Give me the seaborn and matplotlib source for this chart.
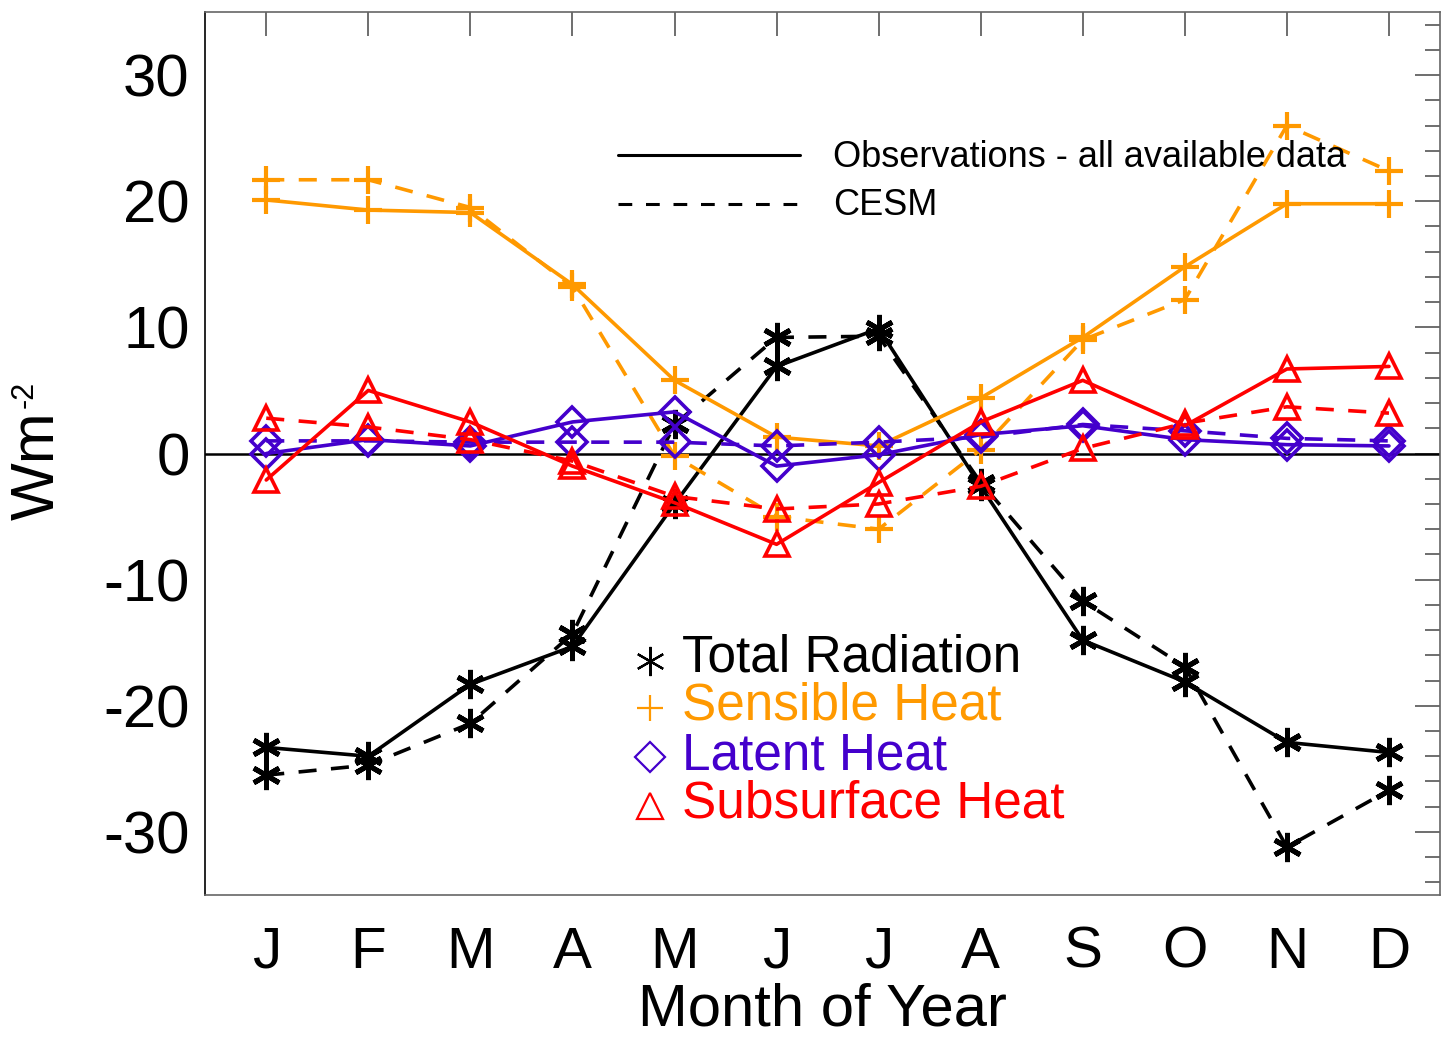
import matplotlib
matplotlib.use("Agg")
import matplotlib.pyplot as plt
from matplotlib.lines import Line2D
import seaborn as sns
import numpy as np
import pandas as pd

months = list(range(1, 13))
month_labels = ["J", "F", "M", "A", "M", "J", "J", "A", "S", "O", "N", "D"]

total_obs = [-23.3, -24.0, -18.3, -15.3, -4.0, 6.9, 9.9, -2.6, -14.8, -18.1, -22.9, -23.7]
total_cesm = [-25.5, -24.7, -21.4, -14.3, 2.3, 9.2, 9.3, -2.3, -11.7, -16.9, -31.2, -26.7]
sens_obs = [20.1, 19.3, 19.1, 13.4, 5.8, 1.3, 0.6, 4.4, 9.2, 14.8, 19.8, 19.8]
sens_cesm = [21.7, 21.7, 19.5, 13.2, -0.2, -5.0, -6.0, 0.3, 9.0, 12.2, 26.0, 22.4]
lat_obs = [0.0, 1.1, 0.6, 2.5, 3.3, -1.0, -0.1, 1.5, 2.2, 1.1, 0.7, 0.6]
lat_cesm = [1.0, 1.0, 0.9, 0.9, 0.9, 0.6, 0.9, 1.3, 2.3, 1.8, 1.2, 1.0]
sub_obs = [-2.1, 5.0, 2.5, -1.0, -3.9, -7.2, -2.3, 2.5, 5.8, 2.2, 6.7, 6.9]
sub_cesm = [2.8, 2.1, 1.1, -0.6, -3.4, -4.4, -4.0, -2.6, 0.4, 2.4, 3.7, 3.2]

yticks = [-30, -20, -10, 0, 10, 20, 30]

ORANGE = "#FF9900"
PURPLE = "#4400CC"
RED = "#FF0000"
BLACK = "#000000"
ASTER = (6, 2, 0)

series = [
    ("Total Radiation", total_obs, total_cesm, BLACK, ASTER, 21, 3.6, BLACK),
    ("Sensible Heat", sens_obs, sens_cesm, ORANGE, "+", 20, 3.0, ORANGE),
    ("Latent Heat", lat_obs, lat_cesm, PURPLE, "D", 15, 2.6, "none"),
    ("Subsurface Heat", sub_obs, sub_cesm, RED, "^", 17, 2.6, "none"),
]

sns.set_style("white")
plt.rcParams["font.family"] = ["Liberation Sans", "DejaVu Sans"]
plt.rcParams["text.color"] = "black"
plt.rcParams["axes.labelcolor"] = "black"
plt.rcParams["xtick.color"] = "black"
plt.rcParams["ytick.color"] = "black"

fig = plt.figure(figsize=(14.48, 10.37), dpi=100)
ax = fig.add_axes([205 / 1448, 1 - 895 / 1037, 1235 / 1448, 883 / 1037])

ax.axhline(0, color="black", lw=1.8, zorder=1)

dash = (0, (5, 4))
for name, obs, cesm, col, mk, ms, mew, mfc in series:
    sns.lineplot(x=months, y=obs, ax=ax, color=col, lw=2.6, marker=mk,
                 markersize=ms, markeredgewidth=mew, markeredgecolor=col,
                 markerfacecolor=mfc, errorbar=None, zorder=3)
    sns.lineplot(x=months, y=cesm, ax=ax, color=col, lw=2.6, linestyle=dash,
                 marker=mk, markersize=ms, markeredgewidth=mew,
                 markeredgecolor=col, markerfacecolor=mfc, errorbar=None, zorder=3)

ax.set_xlim(0.4, 12.5)
ax.set_ylim(-35, 35)
ax.set_xticks(months)
ax.set_xticklabels(month_labels)
ax.set_yticks(yticks)
ax.set_yticklabels([str(v) for v in yticks])
ax.yaxis.set_minor_locator(matplotlib.ticker.MultipleLocator(2))

for s in ax.spines.values():
    s.set_color("#666666")
    s.set_linewidth(1.2)
ax.spines["left"].set_color("black")
ax.tick_params(axis="both", which="both", direction="in", top=True, right=True,
               color="#555555", width=1.2)
ax.tick_params(axis="y", which="major", length=18, labelsize=43, pad=11)
ax.tick_params(axis="y", which="minor", length=11)
ax.tick_params(axis="x", which="major", length=17, labelsize=42, pad=22)

ax.set_xlabel("Month of Year", fontsize=43, labelpad=2)
ax.set_ylabel("")
# y-axis label: "Wm" with a small "-2" superscript, as in the original
fig.text(38 / 1448, 1 - 466 / 1037, "Wm", rotation=90, fontsize=44,
         ha="center", va="center")
fig.text(25 / 1448, 1 - 394 / 1037, "-2", rotation=90, fontsize=22,
         ha="center", va="center")

def ax_xy(px, py):
    return (px - 205) / 1235, (895 - py) / 883

# line-style legend
for py, ls, lab, base in [(155, "-", "Observations - all available data", 167),
                          (204, (0, (4.5, 4.5)), "CESM", 215)]:
    x0, y0 = ax_xy(618, py)
    x1, _ = ax_xy(800, py)
    ax.add_line(Line2D([x0, x1], [y0, y0], transform=ax.transAxes, color="black",
                       lw=2.2, linestyle=ls))
    tx, ty = ax_xy(833, base)
    ax.text(tx, ty, lab, transform=ax.transAxes, fontsize=26, va="baseline", ha="left")

# variable legend
for i, (name, obs, cesm, col, mk, ms, mew, mfc) in enumerate(series):
    base = [672, 720, 769, 818][i]
    mky = [661, 708, 757, 806][i]
    mx, my = ax_xy(650, mky)
    ax.add_line(Line2D([mx], [my], transform=ax.transAxes, marker=mk, color=col,
                       markersize=[21, 19, 15, 19][i], markeredgewidth=1.6,
                       markerfacecolor="none", markeredgecolor=col, linestyle="none"))
    tx, ty = ax_xy(682, base)
    ax.text(tx, ty, name, transform=ax.transAxes, fontsize=37, color=col,
            va="baseline", ha="left")

fig.savefig("out.png", dpi=100)
